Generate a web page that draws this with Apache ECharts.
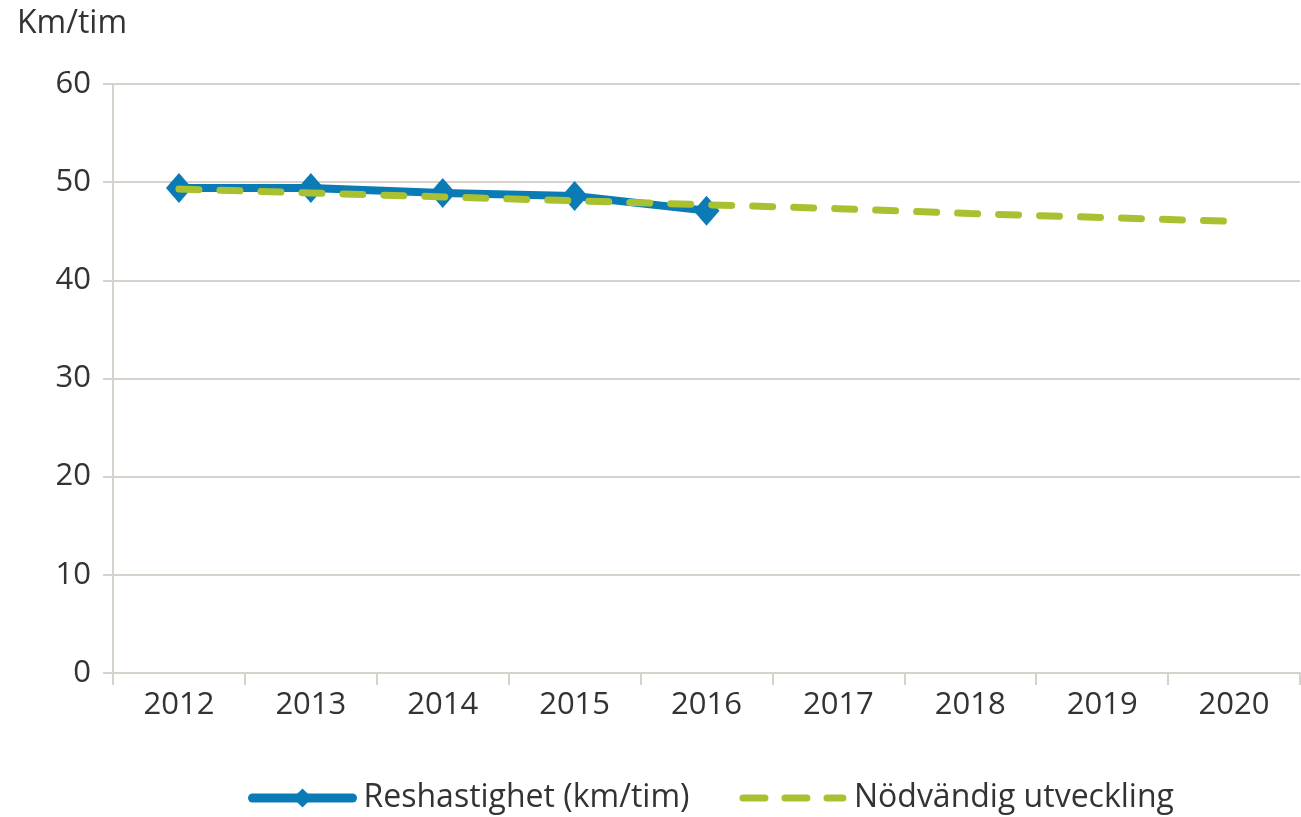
<!DOCTYPE html>
<html>
<head>
<meta charset="utf-8">
<script src="https://cdn.jsdelivr.net/npm/echarts@6/dist/echarts.min.js"></script>
<style>
  html, body { margin: 0; padding: 0; background: #fff; }
  #chart { width: 1301px; height: 817px; }
</style>
</head>
<body>
<div id="chart"></div>
<script>
var years = ['2012', '2013', '2014', '2015', '2016', '2017', '2018', '2019', '2020'];
// Reshastighet (km/tim), measured 2012-2016
var reshastighet = [49.4, 49.4, 48.9, 48.6, 47.1];
// Nödvändig utveckling, trend towards 2020
var nodvandig = [49.3, 48.9, 48.5, 48.1, 47.7, 47.3, 46.8, 46.4, 46.0];
var yTicks = [0, 10, 20, 30, 40, 50, 60];

var font = '"Open Sans", sans-serif';
var blue = '#0b7bb5';
var green = '#a9c131';
var chart = echarts.init(document.getElementById('chart'));

chart.setOption({
  animation: false,
  grid: { left: 113, right: 1, top: 84, bottom: 144 },
  legend: {
    bottom: -2,
    left: 243,
    itemWidth: 100,
    itemHeight: 24,
    itemGap: 50,
    textStyle: { fontFamily: font, fontSize: 32, color: '#333', padding: [0, 0, 0, 6] },
    data: [
      {
        name: 'Reshastighet (km/tim)',
        lineStyle: { width: 9, color: blue, cap: 'round' },
        itemStyle: { color: blue }
      },
      {
        name: 'Nödvändig utveckling',
        lineStyle: { width: 7, color: green, type: [22, 20], cap: 'round' },
        itemStyle: { opacity: 0 }
      }
    ]
  },
  xAxis: {
    type: 'category',
    data: years,
    boundaryGap: true,
    axisLine: { lineStyle: { color: '#d6d2cb', width: 2 } },
    axisTick: { show: true, length: 12, lineStyle: { color: '#d6d2cb', width: 2 } },
    axisLabel: { fontFamily: font, fontSize: 31, color: '#333', margin: 17 }
  },
  yAxis: {
    type: 'value',
    min: yTicks[0],
    max: yTicks[yTicks.length - 1],
    interval: 10,
    name: 'Km/tim',
    nameLocation: 'end',
    nameGap: 0,
    nameTextStyle: { fontFamily: font, fontSize: 32, color: '#333', align: 'left', padding: [0, 0, 44, -96] },
    axisLine: { show: true, lineStyle: { color: '#d6d2cb', width: 2 } },
    axisTick: { show: true, length: 10, lineStyle: { color: '#d6d2cb', width: 2 } },
    axisLabel: { fontFamily: font, fontSize: 31, color: '#333', margin: 22 },
    splitLine: { lineStyle: { color: '#d6d2cb', width: 2 } }
  },
  series: [
    {
      name: 'Reshastighet (km/tim)',
      type: 'line',
      data: reshastighet,
      symbol: 'diamond',
      symbolSize: [26, 30],
      itemStyle: { color: blue },
      lineStyle: { color: blue, width: 8 },
      z: 2
    },
    {
      name: 'Nödvändig utveckling',
      type: 'line',
      data: nodvandig,
      symbol: 'none',
      itemStyle: { color: green },
      lineStyle: { color: green, width: 7, type: [20, 21], cap: 'round' },
      z: 3
    }
  ]
});
</script>
</body>
</html>
